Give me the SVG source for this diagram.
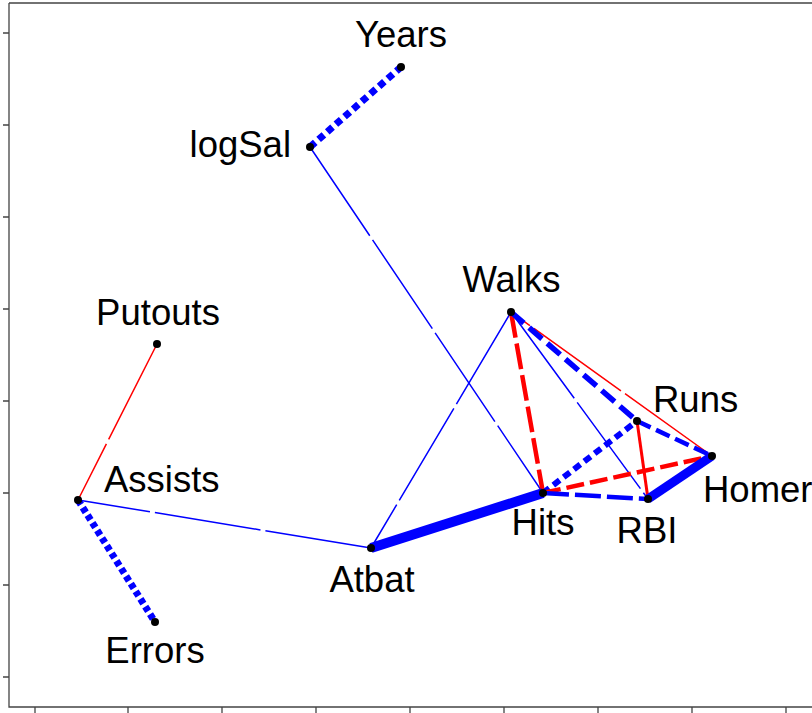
<svg xmlns="http://www.w3.org/2000/svg" width="812" height="713" viewBox="0 0 812 713">
<style>
.lbl{font-family:"Liberation Sans",Arial,sans-serif;font-size:36.5px;fill:#000}
.ax{stroke:#444;stroke-width:1.3;fill:none}
.pos{stroke:#0000ff;fill:none}
.neg{stroke:#ff0000;fill:none}
.thin{stroke-width:1.5;stroke-dasharray:107 5}
.dot{fill:#000}
</style>
<rect width="812" height="713" fill="#fff"/>
<g id="axes">
<path class="ax" d="M9,3 H830 M9,3 V707 H830"/>
<path class="ax" d="M3,33H9M3,125H9M3,217H9M3,309H9M3,401H9M3,493H9M3,585H9M3,677H9"/>
<path class="ax" d="M35,707V713M128,707V713M222,707V713M316,707V713M410,707V713M504,707V713M598,707V713M692,707V713M786,707V713"/>
</g>
<g id="connectors">
<line class="pos" x1="310" y1="147" x2="401" y2="67" stroke-width="7" stroke-dasharray="7 4.5"/>
<line class="pos thin" x1="310" y1="147" x2="543" y2="493"/>
<line class="neg thin" x1="157" y1="344" x2="78" y2="500"/>
<line class="pos thin" x1="371" y1="548" x2="78" y2="500"/>
<line class="pos" x1="78" y1="500" x2="155" y2="622" stroke-width="7" stroke-dasharray="5.5 3.5"/>
<line class="pos thin" x1="511" y1="312" x2="371" y2="548"/>
<line class="pos thin" x1="511" y1="312" x2="648" y2="499" stroke-dasharray="124 5"/>
<line class="neg thin" x1="712" y1="456" x2="511" y2="312" stroke-dasharray="54 5 101 5 200"/>
<line class="neg" x1="511" y1="312" x2="543" y2="493" stroke-width="4.5" stroke-dasharray="26 6"/>
<line class="pos" x1="511" y1="312" x2="637" y2="421" stroke-width="5.5" stroke-dasharray="17 7"/>
<line class="pos" x1="637" y1="421" x2="712" y2="456" stroke-width="4.5" stroke-dasharray="15 6"/>
<line class="pos" x1="543" y1="493" x2="637" y2="421" stroke-width="6" stroke-dasharray="8 5"/>
<line class="neg" x1="637" y1="421" x2="648" y2="499" stroke-width="3"/>
<line class="neg" x1="543" y1="493" x2="712" y2="456" stroke-width="4.5" stroke-dasharray="18 6"/>
<line class="pos" x1="543" y1="493" x2="648" y2="499" stroke-width="4.5" stroke-dasharray="26 6"/>
<line class="pos" x1="371" y1="548" x2="543" y2="493" stroke-width="10"/>
<line class="pos" x1="648" y1="499" x2="712" y2="456" stroke-width="9"/>
</g>
<g id="Years"><circle class="dot" cx="401" cy="67" r="4"/><text class="lbl" x="401" y="47" text-anchor="middle">Years</text></g>
<g id="logSal"><circle class="dot" cx="310" cy="147" r="4"/><text class="lbl" x="291" y="157" text-anchor="end">logSal</text></g>
<g id="Walks"><circle class="dot" cx="511" cy="312" r="4"/><text class="lbl" x="511.5" y="292" text-anchor="middle">Walks</text></g>
<g id="Putouts"><circle class="dot" cx="157" cy="344" r="4"/><text class="lbl" x="158" y="325" text-anchor="middle">Putouts</text></g>
<g id="Runs"><circle class="dot" cx="637" cy="421" r="4"/><text class="lbl" x="653" y="412">Runs</text></g>
<g id="Homer"><circle class="dot" cx="712" cy="456" r="4"/><text class="lbl" x="703" y="502">Homer</text></g>
<g id="Hits"><circle class="dot" cx="543" cy="493" r="4"/><text class="lbl" x="543" y="535" text-anchor="middle">Hits</text></g>
<g id="RBI"><circle class="dot" cx="648" cy="499" r="4"/><text class="lbl" x="647" y="543" text-anchor="middle">RBI</text></g>
<g id="Assists"><circle class="dot" cx="78" cy="500" r="4"/><text class="lbl" x="104" y="492">Assists</text></g>
<g id="Atbat"><circle class="dot" cx="371" cy="548" r="4"/><text class="lbl" x="372" y="592" text-anchor="middle">Atbat</text></g>
<g id="Errors"><circle class="dot" cx="155" cy="622" r="4"/><text class="lbl" x="155" y="663" text-anchor="middle">Errors</text></g>
</svg>
